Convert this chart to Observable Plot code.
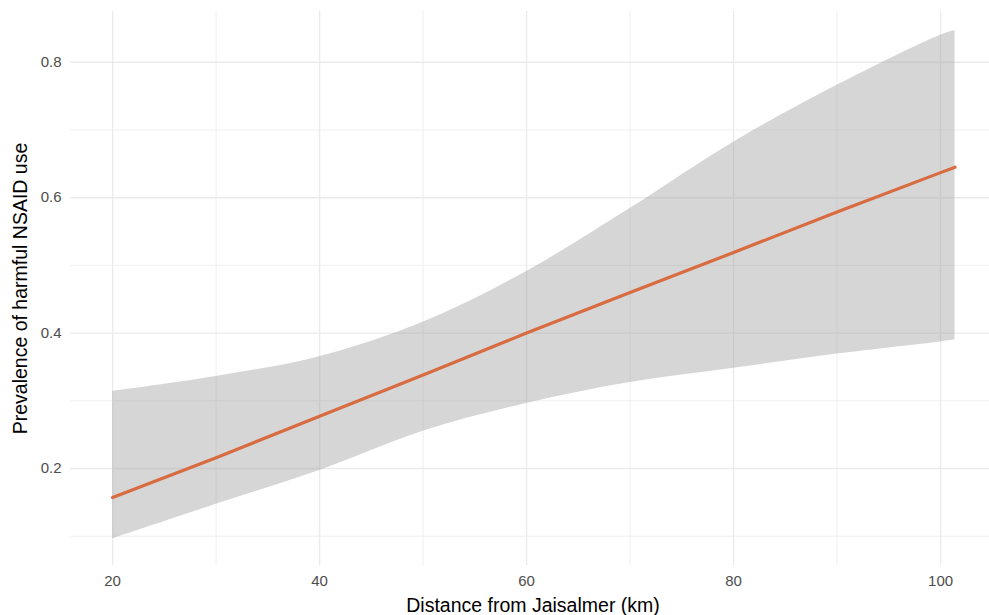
<!DOCTYPE html>
<html>
<head>
<meta charset="utf-8">
<script src="https://cdn.jsdelivr.net/npm/d3@7"></script>
<script src="https://cdn.jsdelivr.net/npm/@observablehq/plot@0.6"></script>
<style>
  html, body { margin: 0; padding: 0; background: #ffffff; }
  #chart { width: 989px; height: 615px; overflow: hidden; }
</style>
</head>
<body>
<div id="chart"></div>
<script>
// Distance (km) at which the fitted curve and its confidence band are read
const distance = [20, 30, 40, 50, 60, 70, 80, 90, 100, 101.4];
// Fitted prevalence of harmful NSAID use
const fitted = [0.157, 0.216, 0.277, 0.338, 0.400, 0.460, 0.519, 0.579, 0.637, 0.645];
// Confidence band
const lowerCI = [0.096, 0.147, 0.197, 0.255, 0.296, 0.327, 0.348, 0.369, 0.387, 0.390];
const upperCI = [0.314, 0.336, 0.365, 0.416, 0.491, 0.584, 0.682, 0.766, 0.840, 0.847];

const xMajor = [20, 40, 60, 80, 100];
const xMinor = [30, 50, 70, 90];
const yMajor = [0.2, 0.4, 0.6, 0.8];
const yMinor = [0.1, 0.3, 0.5, 0.7];

const xTitle = "Distance from Jaisalmer (km)";
const yTitle = "Prevalence of harmful NSAID use";

const rows = distance.map((d, i) => ({distance: d, fit: fitted[i], lo: lowerCI[i], hi: upperCI[i]}));

const chart = Plot.plot({
  width: 989,
  height: 615,
  marginLeft: 70,
  marginRight: 0,
  marginTop: 11,
  marginBottom: 50,
  style: {fontFamily: "'Liberation Sans', Arial, sans-serif", background: "#ffffff"},
  x: {domain: [15.93, 104.73]},
  y: {domain: [0.0567, 0.875]},
  marks: [
    Plot.ruleX(xMinor, {stroke: "#ebebeb", strokeWidth: 0.8}),
    Plot.ruleY(yMinor, {stroke: "#ebebeb", strokeWidth: 0.8}),
    Plot.ruleX(xMajor, {stroke: "#ebebeb", strokeWidth: 1.4}),
    Plot.ruleY(yMajor, {stroke: "#ebebeb", strokeWidth: 1.4}),
    Plot.areaY(rows, {x: "distance", y1: "lo", y2: "hi", fill: "#999999", fillOpacity: 0.4, curve: "catmull-rom"}),
    Plot.line(rows, {x: "distance", y: "fit", stroke: "#D86B3F", strokeWidth: 3.2, curve: "linear"}),
    Plot.axisX(xMajor, {tickSize: 0, tickPadding: 10, fontSize: 15, color: "#4d4d4d", label: null, tickFormat: d => String(d)}),
    Plot.axisY(yMajor, {tickSize: 0, tickPadding: 9, fontSize: 15, color: "#4d4d4d", label: null, tickFormat: d => String(d)}),
    Plot.text([xTitle], {frameAnchor: "bottom", dy: 40, dx: 3, textAnchor: "middle", lineAnchor: "middle", fontSize: 19.5, fill: "#000000"}),
    Plot.text([yTitle], {frameAnchor: "left", dx: -50, rotate: -90, textAnchor: "middle", lineAnchor: "middle", fontSize: 19.5, fill: "#000000"})
  ]
});
document.getElementById("chart").appendChild(chart);
</script>
</body>
</html>
